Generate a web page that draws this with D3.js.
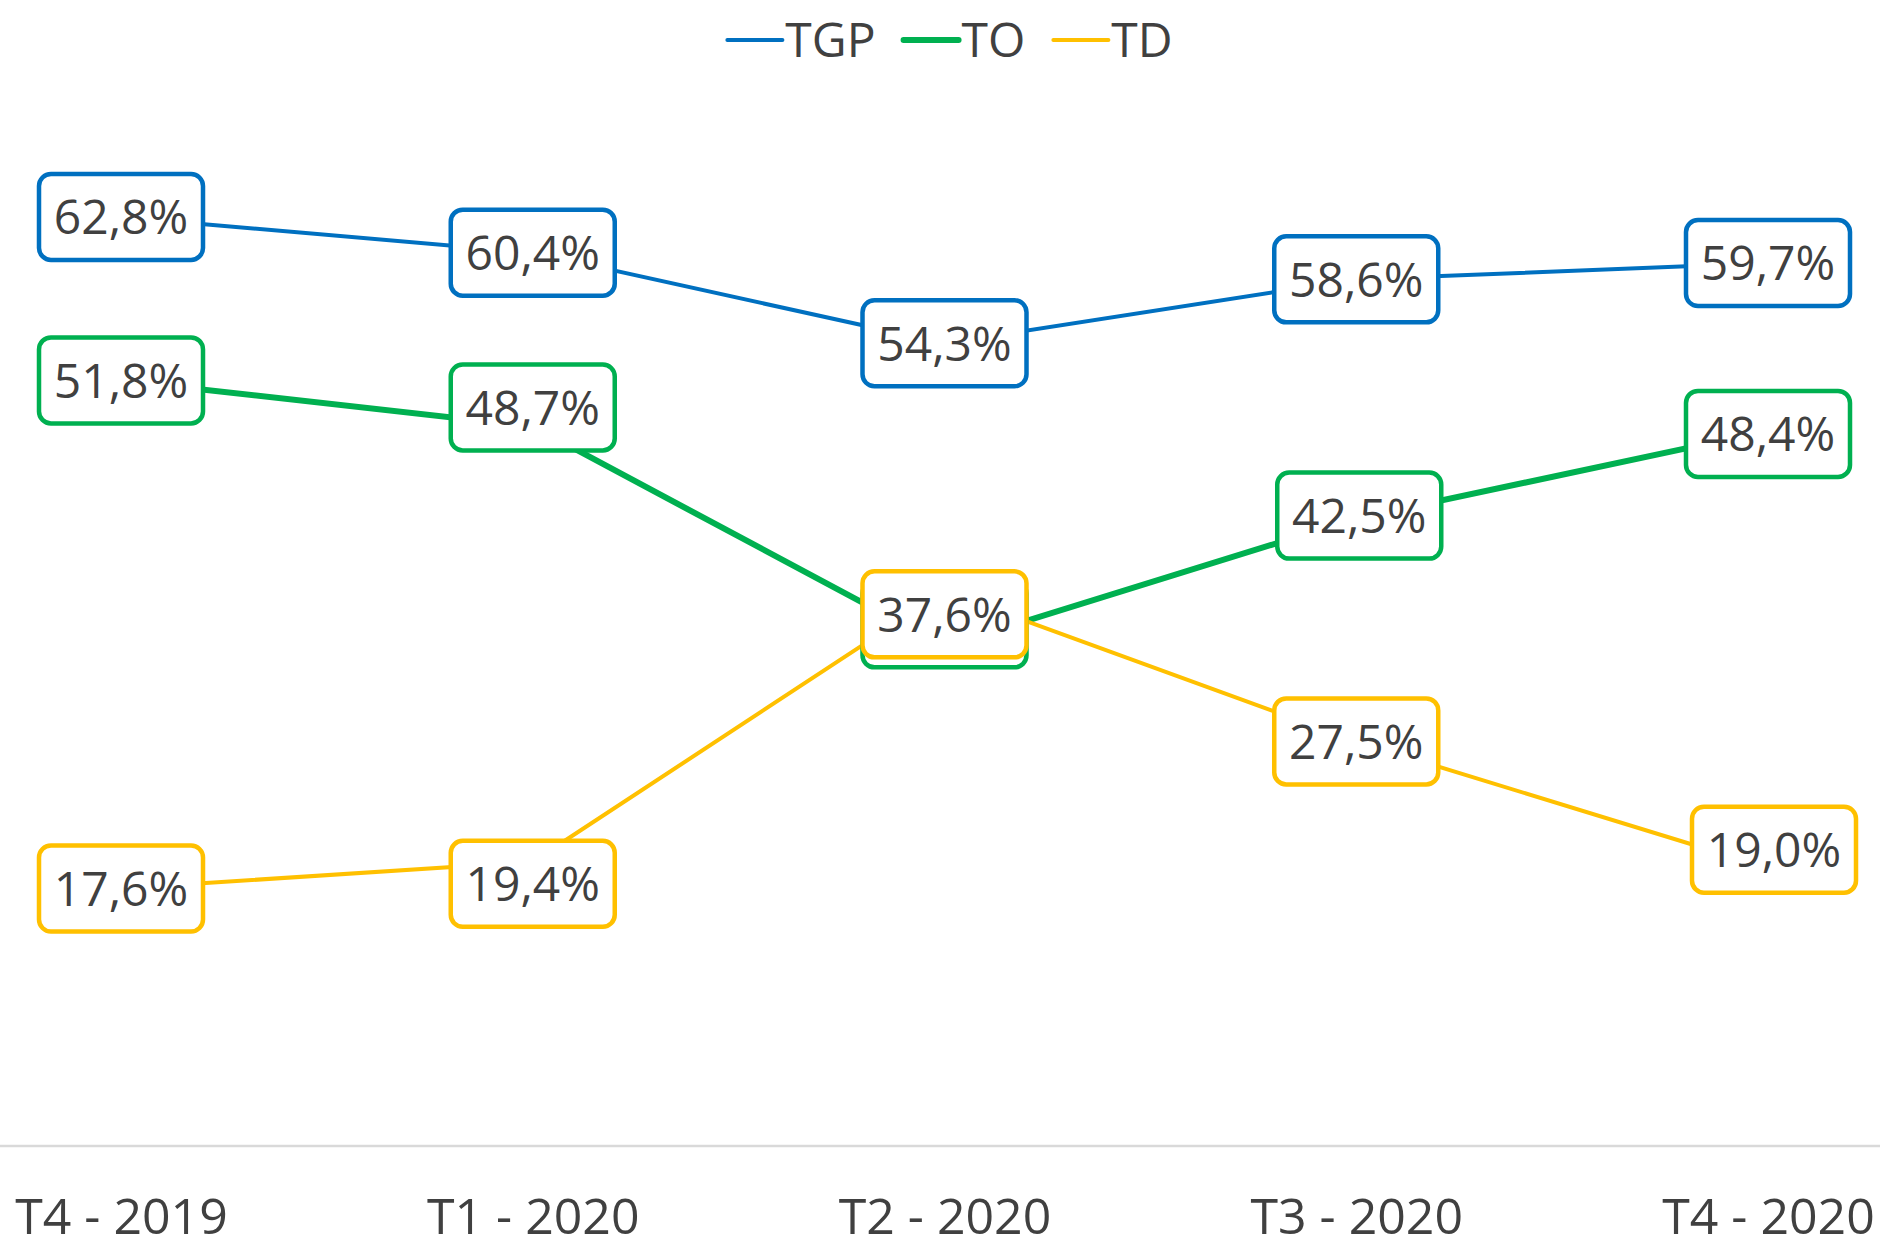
<!DOCTYPE html>
<html lang="fr">
<head>
  <meta charset="UTF-8">
  <title>TGP, TO, TD</title>
  <script src="https://d3js.org/d3.v7.min.js"></script>
  <style>
    body {
      margin: 0;
      background: #ffffff;
      font-family: "Open Sans", sans-serif;
    }
    .label text, .legend text, .x-axis text {
      fill: #404040;
    }
  </style>
</head>
<body>
  <div id="chart"></div>
  <script>
    const categories = ["T4 - 2019", "T1 - 2020", "T2 - 2020", "T3 - 2020", "T4 - 2020"];
    const seriesNames = ["TGP", "TO", "TD"];
    const tgpValues = [62.8, 60.4, 54.3, 58.6, 59.7];
    const toValues = [51.8, 48.7, 33.9, 42.5, 48.4];
    const tdValues = [17.6, 19.4, 37.6, 27.5, 19.0];

    const width = 1880, height = 1240;
    const axisY = 1146;

    // Excel nudges some labels away from their point
    const labelShift = {
      TGP: [[0, 0], [0, 0], [0, 0], [0, 0], [0, 0]],
      TO: [[0, 0], [0, -19], [0, -22], [3, -3], [0, 3]],
      TD: [[0, 0], [0, 22], [0, 23], [0, 0], [6, -18]]
    };

    const series = [
      {name: seriesNames[0], values: tgpValues, color: "#0070C0", stroke: 4},
      {name: seriesNames[1], values: toValues, color: "#00B050", stroke: 6},
      {name: seriesNames[2], values: tdValues, color: "#FFC000", stroke: 4}
    ];

    const svg = d3.select("#chart")
      .append("svg")
      .attr("width", width)
      .attr("height", height);

    const x = d3.scalePoint()
      .domain(categories)
      .range([121, 1768]);

    const y = d3.scaleLinear()
      .domain([0, 70])
      .range([1150, 110]);

    // axis line across the whole width
    svg.append("line")
      .attr("x1", 0)
      .attr("x2", width)
      .attr("y1", axisY)
      .attr("y2", axisY)
      .attr("stroke", "#D9D9D9")
      .attr("stroke-width", 2.5);

    const xAxis = svg.append("g")
      .attr("class", "x-axis")
      .attr("transform", "translate(0," + axisY + ")")
      .call(d3.axisBottom(x).tickSize(0).tickPadding(0));
    xAxis.select(".domain").remove();
    xAxis.selectAll("text")
      .attr("y", 88)
      .attr("dy", 0)
      .style("font-size", "50px")
      .style("font-family", "'Open Sans', sans-serif");

    const line = d3.line()
      .x((d, i) => x(categories[i]))
      .y(d => y(d));

    svg.selectAll(".series")
      .data(series)
      .enter().append("path")
      .attr("class", "series")
      .attr("d", d => line(d.values))
      .attr("fill", "none")
      .attr("stroke", d => d.color)
      .attr("stroke-width", d => d.stroke)
      .attr("stroke-linejoin", "round");

    const fmt = v => d3.format(".1f")(v).replace(".", ",") + "%";
    const boxW = 164, boxH = 86;

    series.forEach(s => {
      const g = svg.append("g").attr("class", "label");
      const items = g.selectAll("g")
        .data(s.values)
        .enter().append("g")
        .attr("transform", (d, i) => {
          const sh = labelShift[s.name][i];
          return "translate(" + (x(categories[i]) + sh[0]) + "," + (y(d) + sh[1]) + ")";
        });
      items.append("rect")
        .attr("x", -boxW / 2)
        .attr("y", -boxH / 2)
        .attr("width", boxW)
        .attr("height", boxH)
        .attr("rx", 12)
        .attr("fill", "#ffffff")
        .attr("stroke", s.color)
        .attr("stroke-width", 4.5);
      items.append("text")
        .attr("text-anchor", "middle")
        .attr("dy", "0.36em")
        .style("font-size", "48px")
        .text(d => fmt(d));
    });

    // legend
    const legend = svg.append("g").attr("class", "legend");
    let lx = 0;
    series.forEach(s => {
      const item = legend.append("g").attr("transform", "translate(" + lx + ",0)");
      item.append("line")
        .attr("x1", 0).attr("x2", 55)
        .attr("y1", 0).attr("y2", 0)
        .attr("stroke", s.color)
        .attr("stroke-width", s.stroke)
        .attr("stroke-linecap", "round");
      const t = item.append("text")
        .attr("x", 58)
        .attr("dy", "0.36em")
        .style("font-size", "48px")
        .text(s.name);
      lx += 58 + t.node().getComputedTextLength() + 28;
    });
    const legendW = lx - 28;
    legend.attr("transform", "translate(" + (950 - legendW / 2) + ",40)");
  </script>
</body>
</html>
